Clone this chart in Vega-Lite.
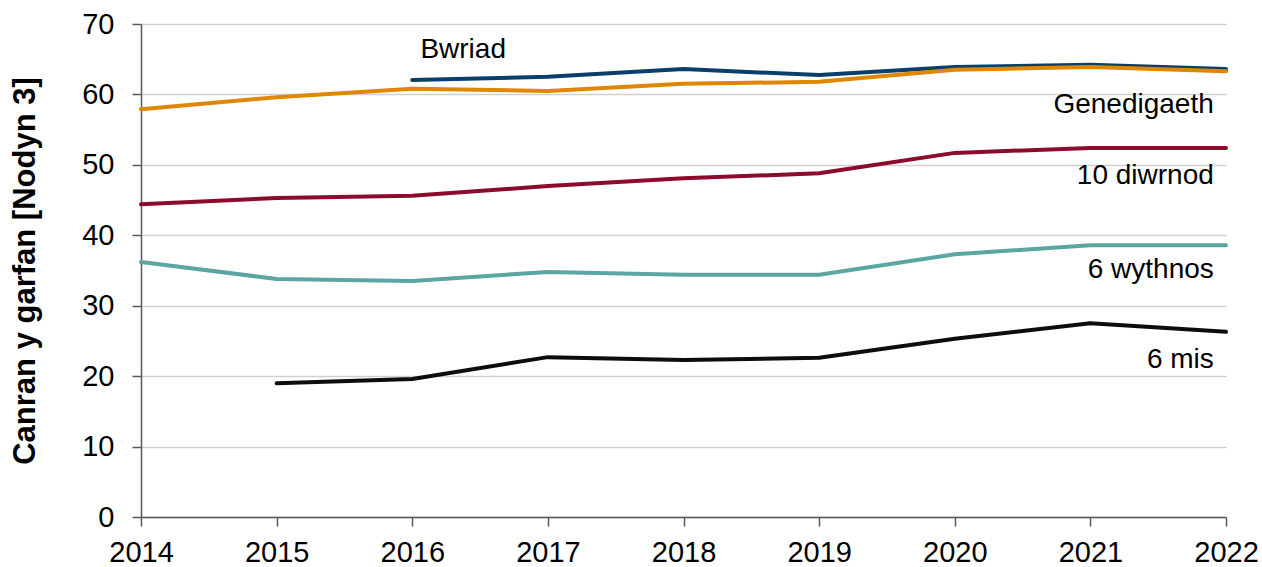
{
  "$schema": "https://vega.github.io/schema/vega-lite/v6.json",
  "width": 1085,
  "height": 493,
  "autosize": {"type": "none"},
  "padding": {"left": 141, "top": 24, "right": 36, "bottom": 50},
  "background": "white",
  "config": {
    "view": {"stroke": null},
    "font": "Liberation Sans"
  },
  "datasets": {
    "series": [
      {"series": "Bwriad", "year": 2016, "value": 62.05},
      {"series": "Bwriad", "year": 2017, "value": 62.5},
      {"series": "Bwriad", "year": 2018, "value": 63.6},
      {"series": "Bwriad", "year": 2019, "value": 62.75},
      {"series": "Bwriad", "year": 2020, "value": 63.9},
      {"series": "Bwriad", "year": 2021, "value": 64.2},
      {"series": "Bwriad", "year": 2022, "value": 63.6},
      {"series": "Genedigaeth", "year": 2014, "value": 57.9},
      {"series": "Genedigaeth", "year": 2015, "value": 59.6},
      {"series": "Genedigaeth", "year": 2016, "value": 60.8},
      {"series": "Genedigaeth", "year": 2017, "value": 60.5},
      {"series": "Genedigaeth", "year": 2018, "value": 61.5},
      {"series": "Genedigaeth", "year": 2019, "value": 61.8},
      {"series": "Genedigaeth", "year": 2020, "value": 63.5},
      {"series": "Genedigaeth", "year": 2021, "value": 63.9},
      {"series": "Genedigaeth", "year": 2022, "value": 63.3},
      {"series": "10 diwrnod", "year": 2014, "value": 44.4},
      {"series": "10 diwrnod", "year": 2015, "value": 45.3},
      {"series": "10 diwrnod", "year": 2016, "value": 45.6},
      {"series": "10 diwrnod", "year": 2017, "value": 47.0},
      {"series": "10 diwrnod", "year": 2018, "value": 48.1},
      {"series": "10 diwrnod", "year": 2019, "value": 48.8},
      {"series": "10 diwrnod", "year": 2020, "value": 51.7},
      {"series": "10 diwrnod", "year": 2021, "value": 52.4},
      {"series": "10 diwrnod", "year": 2022, "value": 52.4},
      {"series": "6 wythnos", "year": 2014, "value": 36.2},
      {"series": "6 wythnos", "year": 2015, "value": 33.8},
      {"series": "6 wythnos", "year": 2016, "value": 33.5},
      {"series": "6 wythnos", "year": 2017, "value": 34.8},
      {"series": "6 wythnos", "year": 2018, "value": 34.4},
      {"series": "6 wythnos", "year": 2019, "value": 34.4},
      {"series": "6 wythnos", "year": 2020, "value": 37.3},
      {"series": "6 wythnos", "year": 2021, "value": 38.6},
      {"series": "6 wythnos", "year": 2022, "value": 38.6},
      {"series": "6 mis", "year": 2015, "value": 19.0},
      {"series": "6 mis", "year": 2016, "value": 19.6},
      {"series": "6 mis", "year": 2017, "value": 22.7},
      {"series": "6 mis", "year": 2018, "value": 22.3},
      {"series": "6 mis", "year": 2019, "value": 22.6},
      {"series": "6 mis", "year": 2020, "value": 25.3},
      {"series": "6 mis", "year": 2021, "value": 27.5},
      {"series": "6 mis", "year": 2022, "value": 26.3}
    ],
    "labelsLeft": [
      {"text": "Bwriad", "year": 2016.06, "value": 66.3}
    ],
    "labelsRight": [
      {"text": "Genedigaeth", "year": 2021.91, "value": 58.5},
      {"text": "10 diwrnod", "year": 2021.91, "value": 48.4},
      {"text": "6 wythnos", "year": 2021.91, "value": 35.1},
      {"text": "6 mis", "year": 2021.91, "value": 22.3}
    ]
  },
  "layer": [
    {
      "data": {"name": "series"},
      "mark": {"type": "line", "strokeWidth": 4, "strokeCap": "round", "strokeJoin": "round"},
      "encoding": {
        "x": {
          "field": "year", "type": "quantitative",
          "scale": {"domain": [2014, 2022], "nice": false, "zero": false},
          "axis": {
            "values": [2014, 2015, 2016, 2017, 2018, 2019, 2020, 2021, 2022],
            "format": "d", "title": null, "grid": false,
            "labelFont": "Liberation Sans", "labelFontSize": 29, "labelColor": "#000",
            "labelFlush": false, "labelOverlap": false, "labelPadding": 12,
            "domainColor": "#595959", "domainWidth": 1.5,
            "tickColor": "#595959", "tickWidth": 1.5, "tickSize": 9
          }
        },
        "y": {
          "field": "value", "type": "quantitative",
          "scale": {"domain": [0, 70], "nice": false},
          "axis": {
            "values": [0, 10, 20, 30, 40, 50, 60, 70],
            "title": "Canran y garfan [Nodyn 3]",
            "titleFont": "Liberation Sans", "titleFontSize": 31, "titleFontWeight": "bold", "titleColor": "#000",
            "titlePadding": 40,
            "grid": true, "gridColor": "#d0d0d0", "gridWidth": 1.5,
            "labelFont": "Liberation Sans", "labelFontSize": 29, "labelColor": "#000", "labelPadding": 18,
            "domainColor": "#595959", "domainWidth": 1.5,
            "tickColor": "#595959", "tickWidth": 1.5, "tickSize": 9
          }
        },
        "color": {
          "field": "series", "type": "nominal",
          "scale": {
            "domain": ["Bwriad", "Genedigaeth", "10 diwrnod", "6 wythnos", "6 mis"],
            "range": ["#0a3f6b", "#df8700", "#8c0a2d", "#5ba5a3", "#0d0d0d"]
          },
          "legend": null
        }
      }
    },
    {
      "data": {"name": "labelsLeft"},
      "mark": {"type": "text", "font": "Liberation Sans", "fontSize": 28, "color": "#000", "baseline": "middle", "align": "left"},
      "encoding": {
        "x": {"field": "year", "type": "quantitative"},
        "y": {"field": "value", "type": "quantitative"},
        "text": {"field": "text"}
      }
    },
    {
      "data": {"name": "labelsRight"},
      "mark": {"type": "text", "font": "Liberation Sans", "fontSize": 28, "color": "#000", "baseline": "middle", "align": "right"},
      "encoding": {
        "x": {"field": "year", "type": "quantitative"},
        "y": {"field": "value", "type": "quantitative"},
        "text": {"field": "text"}
      }
    }
  ]
}
